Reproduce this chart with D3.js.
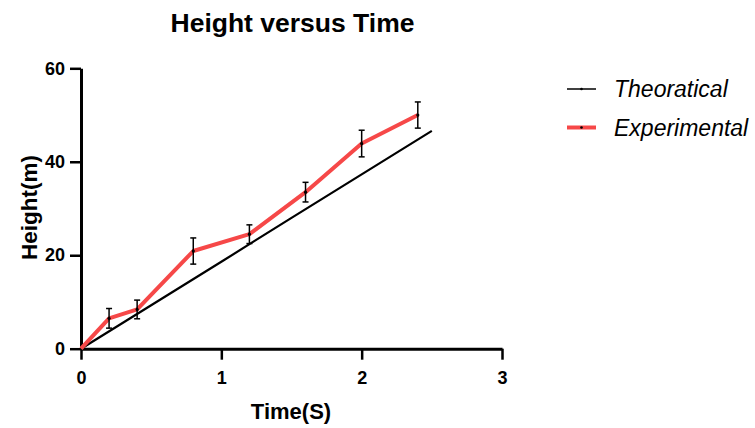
<!DOCTYPE html>
<html lang="en">
<head>
    <meta charset="UTF-8">
    <title>Height versus Time</title>
    <script src="https://d3js.org/d3.v7.min.js"></script>
    <style>
        body {
            margin: 0;
            background: #fff;
            font-family: Arial, "Liberation Sans", sans-serif;
        }
        svg { display: block; }
        .axis path, .axis line { stroke: #000; }
        .axis text { font-size: 18px; font-weight: bold; fill: #000; font-family: Arial, "Liberation Sans", sans-serif; }
    </style>
</head>
<body>
    <svg width="755" height="428"></svg>

    <script>
        // experimental readings (mean +/- error)
        const timeExp = [0, 0.2, 0.4, 0.8, 1.2, 1.6, 2.0, 2.4];
        const heightExp = [0, 6.5, 8.4, 20.9, 24.5, 33.5, 43.9, 50.0];
        const errExp = [0, 2.1, 2.0, 2.8, 2.0, 2.1, 2.85, 2.8];

        // theoretical line
        const timeTheo = [0, 0.5, 1.0, 1.5, 2.0, 2.5];
        const heightTheo = [0, 9.3, 18.6, 28.0, 37.3, 46.6];

        const xTicks = [0, 1, 2, 3];
        const yTicks = [0, 20, 40, 60];
        const seriesNames = ["Theoratical", "Experimental"];

        const svg = d3.select("svg");
        const red = "#f64848";

        const x = d3.scaleLinear().domain([0, 3]).range([81, 502]);
        const y = d3.scaleLinear().domain([0, 60]).range([348.7, 68.3]);

        const expData = timeExp.map((t, i) => ({ t: t, h: heightExp[i], e: errExp[i] }));
        const theoData = timeTheo.map((t, i) => ({ t: t, h: heightTheo[i] }));

        // title
        svg.append("text")
            .attr("x", 292.5)
            .attr("y", 32)
            .attr("text-anchor", "middle")
            .attr("font-size", "26.5px")
            .attr("font-weight", "bold")
            .text("Height versus Time");

        // axes
        svg.append("g")
            .attr("class", "axis")
            .attr("transform", `translate(0,${y(0)})`)
            .call(d3.axisBottom(x).tickValues(xTicks).tickSize(11).tickSizeOuter(0).tickPadding(12)
                .tickFormat(d3.format("d")))
            .call(g => g.select(".domain").attr("stroke-width", 3))
            .call(g => g.selectAll(".tick line").attr("stroke-width", 2.5));

        svg.append("g")
            .attr("class", "axis")
            .attr("transform", `translate(${x(0)},0)`)
            .call(d3.axisLeft(y).tickValues(yTicks).tickSize(11).tickSizeOuter(0).tickPadding(5)
                .tickFormat(d3.format("d")))
            .call(g => g.select(".domain").attr("stroke-width", 3))
            .call(g => g.selectAll(".tick line").attr("stroke-width", 2.5));

        // axis titles
        svg.append("text")
            .attr("x", 291)
            .attr("y", 419)
            .attr("text-anchor", "middle")
            .attr("font-size", "22px")
            .attr("font-weight", "bold")
            .text("Time(S)");

        svg.append("text")
            .attr("transform", "translate(36.5,207.5) rotate(-90)")
            .attr("text-anchor", "middle")
            .attr("font-size", "22.5px")
            .attr("font-weight", "bold")
            .text("Height(m)");

        const line = d3.line().x(d => x(d.t)).y(d => y(d.h));

        // theoretical
        svg.append("path")
            .datum(theoData)
            .attr("fill", "none")
            .attr("stroke", "#000")
            .attr("stroke-width", 2.2)
            .attr("d", line);

        // experimental
        svg.append("path")
            .datum(expData)
            .attr("fill", "none")
            .attr("stroke", red)
            .attr("stroke-width", 4)
            .attr("stroke-linejoin", "round")
            .attr("d", line);

        const bars = svg.append("g")
            .selectAll("g")
            .data(expData.filter(d => d.e > 0))
            .enter().append("g");

        bars.append("line")
            .attr("x1", d => x(d.t)).attr("x2", d => x(d.t))
            .attr("y1", d => y(d.h - d.e)).attr("y2", d => y(d.h + d.e))
            .attr("stroke", "#000").attr("stroke-width", 1.5);
        bars.append("line")
            .attr("x1", d => x(d.t) - 3).attr("x2", d => x(d.t) + 3)
            .attr("y1", d => y(d.h + d.e)).attr("y2", d => y(d.h + d.e))
            .attr("stroke", "#000").attr("stroke-width", 1.5);
        bars.append("line")
            .attr("x1", d => x(d.t) - 3).attr("x2", d => x(d.t) + 3)
            .attr("y1", d => y(d.h - d.e)).attr("y2", d => y(d.h - d.e))
            .attr("stroke", "#000").attr("stroke-width", 1.5);
        bars.append("circle")
            .attr("cx", d => x(d.t)).attr("cy", d => y(d.h))
            .attr("r", 1.6).attr("fill", "#000");

        // legend
        const legend = svg.append("g");
        const legendY = [89, 127.5];
        seriesNames.forEach((name, i) => {
            legend.append("line")
                .attr("x1", 567).attr("x2", 596)
                .attr("y1", legendY[i]).attr("y2", legendY[i])
                .attr("stroke", i === 0 ? "#000" : red)
                .attr("stroke-width", i === 0 ? 1.5 : 4);
            legend.append("circle")
                .attr("cx", 581.5).attr("cy", legendY[i])
                .attr("r", 1.3).attr("fill", "#000");
            legend.append("text")
                .attr("x", 614)
                .attr("y", legendY[i] + 8)
                .attr("font-size", "23px")
                .attr("font-style", "italic")
                .text(name);
        });
    </script>
</body>
</html>
